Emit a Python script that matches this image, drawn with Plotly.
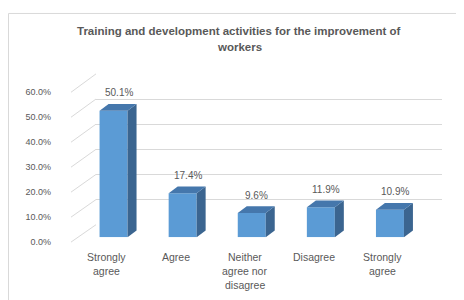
import plotly.graph_objects as go

# ---------------- data ----------------
categories = ["Strongly agree", "Agree", "Neither agree nor disagree", "Disagree", "Strongly agree"]
category_lines = [["Strongly", "agree"], ["Agree"], ["Neither", "agree nor", "disagree"], ["Disagree"], ["Strongly", "agree"]]
values = [0.501, 0.174, 0.096, 0.119, 0.109]
value_labels = ["50.1%", "17.4%", "9.6%", "11.9%", "10.9%"]
tick_values = [0.0, 0.1, 0.2, 0.3, 0.4, 0.5, 0.6]
title_lines = ["Training and development activities for the improvement of", "workers"]

# ---------------- geometry helpers ----------------
W, H = 464, 300
def px(x):
    return x / W
def py(y):
    return 1 - y / H

FRONT = "#5B9BD5"
SIDE = "#3B6590"
TOP = "#4577AC"
TXT = "#595959"
GRID = "#D9D9D9"
FONT = "Liberation Sans, Arial, sans-serif"

ymax = 0.6
bar_w = 0.405
unit_x = (416.5 - 71) / 5.0       # pixels per category
unit_y = (232 - 75.4) / ymax      # pixels per value unit
dx = 9 / unit_x
dy = 7 / unit_y

fig = go.Figure()

# back wall (subplot xy) -- only gridlines
fig.add_trace(go.Scatter(x=[0], y=[0], mode="markers", marker=dict(opacity=0),
                         hoverinfo="skip", showlegend=False, xaxis="x", yaxis="y"))
# front tick label axis (x3y3)
fig.add_trace(go.Scatter(x=[0], y=[0], mode="markers", marker=dict(opacity=0),
                         hoverinfo="skip", showlegend=False, xaxis="x3", yaxis="y3"))

# bars (subplot x2y2)
xs = list(range(len(values)))
for i, v in zip(xs, values):
    # side face
    fig.add_trace(go.Scatter(
        x=[i + bar_w / 2, i + bar_w / 2 + dx, i + bar_w / 2 + dx, i + bar_w / 2, i + bar_w / 2],
        y=[0, dy, v + dy, v, 0],
        mode="lines", fill="toself", fillcolor=SIDE, line=dict(width=0, color=SIDE),
        hoverinfo="skip", showlegend=False, xaxis="x2", yaxis="y2"))
    # top face
    fig.add_trace(go.Scatter(
        x=[i - bar_w / 2, i + bar_w / 2, i + bar_w / 2 + dx, i - bar_w / 2 + dx, i - bar_w / 2],
        y=[v, v, v + dy, v + dy, v],
        mode="lines", fill="toself", fillcolor=TOP, line=dict(width=0, color=TOP),
        hoverinfo="skip", showlegend=False, xaxis="x2", yaxis="y2"))

fig.add_trace(go.Bar(x=xs, y=values, width=bar_w, marker=dict(color=FRONT, line=dict(width=0)),
                     showlegend=False, xaxis="x2", yaxis="y2"))

annotations = []
# value labels
for i, (v, lab) in enumerate(zip(values, value_labels)):
    annotations.append(dict(x=i, y=v, xref="x2", yref="y2", text=lab, showarrow=False,
                            xshift=5, yshift=18, yanchor="middle", xanchor="center",
                            font=dict(family=FONT, size=10, color=TXT)))
# category labels
line_y = [252, 266.5, 281]
for i, lines in enumerate(category_lines):
    for k, t in enumerate(lines):
        annotations.append(dict(x=i, y=py(line_y[k]), xref="x2", yref="paper", text=t,
                                showarrow=False, xshift=-7, yanchor="middle", xanchor="center",
                                font=dict(family=FONT, size=10.5, color=TXT)))
# title
title_y = [19, 35]
for k, t in enumerate(title_lines):
    annotations.append(dict(x=px(231), y=py(title_y[k]), xref="paper", yref="paper",
                            text="<b>" + t + "</b>", showarrow=False, yanchor="middle",
                            xanchor="center", font=dict(family=FONT, size=11.5, color=TXT)))

# diagonal connectors from front axis to back wall
shapes = []
for g in tick_values:
    yf = 237 - g * (237 - 82) / ymax
    yb = 219 - g * (219 - 63) / ymax
    shapes.append(dict(type="line", xref="paper", yref="paper", x0=px(63), y0=py(yf),
                       x1=px(88), y1=py(yb), line=dict(color=GRID, width=1), layer="below"))
# chart border
shapes.append(dict(type="rect", xref="paper", yref="paper", x0=px(0.5), y0=py(299.5),
                   x1=px(463.5), y1=py(0.5), line=dict(color=GRID, width=1)))

fig.update_layout(
    width=W, height=H, margin=dict(l=0, r=0, t=0, b=0),
    paper_bgcolor="white", plot_bgcolor="rgba(0,0,0,0)",
    showlegend=False, annotations=annotations, shapes=shapes,
    xaxis=dict(domain=[px(88), px(434)], range=[0, 1], visible=False, anchor="y"),
    yaxis=dict(domain=[py(219), py(63)], range=[0, ymax], anchor="x",
               tickvals=tick_values, showticklabels=False, showgrid=True, gridcolor=GRID,
               gridwidth=1, zeroline=False, showline=False, ticks=""),
    xaxis2=dict(domain=[px(71), px(416.5)], range=[-0.5, 4.5], visible=False, anchor="y2"),
    yaxis2=dict(domain=[py(232), py(232 - ymax * unit_y)], range=[0, ymax], visible=False,
                anchor="x2"),
    xaxis3=dict(domain=[px(44), px(50)], range=[0, 1], visible=False, anchor="y3"),
    yaxis3=dict(domain=[py(237), py(82)], range=[0, ymax], anchor="x3", side="left",
                tickvals=tick_values, tickformat=".1%", showgrid=False, zeroline=False,
                showline=False, ticks="",
                tickfont=dict(family=FONT, size=9, color=TXT)),
)

fig.write_html("out.html")
